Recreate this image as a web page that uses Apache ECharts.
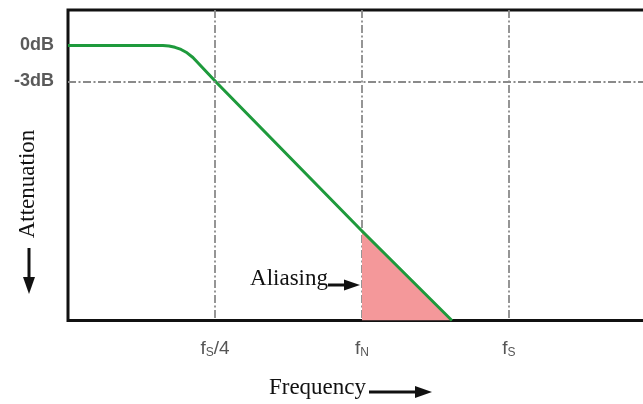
<!DOCTYPE html>
<html>
<head>
<meta charset="utf-8">
<script src="https://cdn.jsdelivr.net/npm/echarts@6/dist/echarts.min.js"></script>
<style>
html,body{margin:0;padding:0;background:#fff;}
#chart{width:643px;height:404px;}
</style>
</head>
<body>
<div id="chart"></div>
<script>
// Filter response curve (x in units of fs/4, y in dB)
var curveX = [0, 0.646, 0.687, 0.728, 0.769, 0.810, 0.850, 0.898, 1.007, 2.0, 2.612];
var curveY = [0, 0, -0.04, -0.15, -0.33, -0.61, -1.0, -1.63, -3.04, -15.46, -22.92];
// Aliased region (between fN and the curve's end)
var aliasX = [2.0, 2.612];
var aliasY = [-15.46, -22.92];
// Tick labels
var xTickValues = [1, 2, 3];
var xTickLabels = ['{a|f}{s|S}{a|/4}', '{a|f}{s|N}', '{a|f}{s|S}'];
var yTickValues = [0, -3];
var yTickLabels = ['0dB', '-3dB'];
var refLineDb = -3;

function zip(xs, ys) { return xs.map(function (x, i) { return [x, ys[i]]; }); }

var gridStyle = { color: '#8a8a8a', width: 1.8, type: [8, 2.5, 2, 2.5] };
var chart = echarts.init(document.getElementById('chart'));
chart.setOption({
  animation: false,
  backgroundColor: '#fff',
  grid: { left: 68, top: 10, right: -10, bottom: 83.5, outerBoundsMode: 'none', containLabel: false,
          show: true, borderColor: '#111', borderWidth: 3, backgroundColor: 'transparent' },
  xAxis: {
    type: 'value', min: 0, max: 3.98, interval: 1,
    axisLine: { show: false }, axisTick: { show: false },
    splitLine: { show: true, showMinLine: false, showMaxLine: false, lineStyle: gridStyle },
    axisLabel: {
      customValues: xTickValues, margin: 19,
      formatter: function (v) { return xTickLabels[xTickValues.indexOf(v)]; },
      rich: {
        a: { fontSize: 19, fontFamily: 'Liberation Sans', color: '#555' },
        s: { fontSize: 12, fontFamily: 'Liberation Sans', color: '#555', padding: [7, 0, 0, 0] }
      }
    }
  },
  yAxis: {
    type: 'value', min: -22.92, max: 2.958,
    axisLine: { show: false }, axisTick: { show: false }, splitLine: { show: false },
    axisLabel: {
      customValues: yTickValues, margin: 14,
      fontSize: 18, fontWeight: 'bold', fontFamily: 'Liberation Sans', color: '#5a5a5a',
      padding: [0, 0, 18, 0],
      formatter: function (v) { return yTickLabels[yTickValues.indexOf(v)]; }
    }
  },
  series: [
    {
      type: 'line', data: zip(aliasX, aliasY), symbol: 'none', z: 2,
      lineStyle: { width: 0 },
      areaStyle: { color: '#f4989a', opacity: 1, origin: 'start' },
      markLine: {
        silent: true, symbol: ['none', 'none'], label: { show: false },
        lineStyle: gridStyle, data: [{ yAxis: refLineDb }]
      }
    },
    {
      type: 'line', data: zip(curveX, curveY), symbol: 'none', z: 3,
      lineStyle: { color: '#1e9a3c', width: 3, join: 'round' }
    }
  ],
  graphic: [
    { type: 'text', x: 28, y: 184, rotation: Math.PI / 2,
      style: { text: 'Attenuation', font: '23px "Liberation Serif"', fill: '#111', align: 'center', verticalAlign: 'middle' } },
    { type: 'rect', shape: { x: 27.5, y: 248, width: 3, height: 32 }, style: { fill: '#111' } },
    { type: 'polygon', shape: { points: [[23, 277], [35, 277], [29, 294]] }, style: { fill: '#111' } },
    { type: 'text', x: 317.5, y: 388,
      style: { text: 'Frequency', font: '23px "Liberation Serif"', fill: '#111', align: 'center', verticalAlign: 'middle' } },
    { type: 'rect', shape: { x: 369, y: 390.5, width: 48, height: 3 }, style: { fill: '#111' } },
    { type: 'polygon', shape: { points: [[415, 386], [415, 398], [432, 392]] }, style: { fill: '#111' } },
    { type: 'text', x: 328, y: 279,
      style: { text: 'Aliasing', font: '23px "Liberation Serif"', fill: '#111', align: 'right', verticalAlign: 'middle' } },
    { type: 'rect', shape: { x: 328, y: 283.5, width: 18, height: 3 }, style: { fill: '#111' } },
    { type: 'polygon', shape: { points: [[344, 279.5], [344, 290.5], [360, 285]] }, style: { fill: '#111' } }
  ]
});
</script>
</body>
</html>
